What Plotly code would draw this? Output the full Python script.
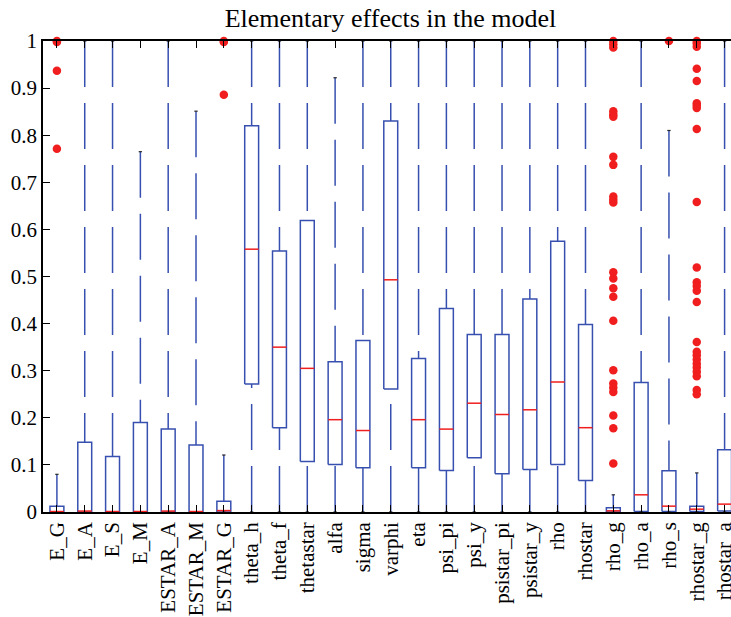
import plotly.graph_objects as go

categories = ["E_G", "E_A", "E_S", "E_M", "ESTAR_A", "ESTAR_M", "ESTAR_G",
              "theta_h", "theta_f", "thetastar", "alfa", "sigma", "varphi", "eta",
              "psi_pi", "psi_y", "psistar_pi", "psistar_y", "rho", "rhostar",
              "rho_g", "rho_a", "rho_s", "rhostar_g", "rhostar_a"]

lower_whisker = [0, 0, 0, 0, 0, 0, 0,
                 0, 0, 0, 0, 0, 0, 0,
                 0, 0, 0, 0, 0, 0,
                 0, 0, 0, 0, 0]
q1 = [0.0, 0.0, 0.0, 0.0, 0.0, 0.0, 0.0,
      0.272, 0.179, 0.107, 0.101, 0.094, 0.261, 0.094,
      0.088, 0.115, 0.081, 0.090, 0.101, 0.067,
      0.0, 0.001, 0.001, 0.001, 0.002]
median = [0.001, 0.002, 0.001, 0.001, 0.002, 0.001, 0.003,
          0.558, 0.350, 0.305, 0.196, 0.173, 0.493, 0.196,
          0.176, 0.231, 0.207, 0.217, 0.276, 0.179,
          0.0025, 0.0365, 0.0124, 0.006, 0.0167]
q3 = [0.012, 0.148, 0.118, 0.190, 0.176, 0.142, 0.023,
      0.820, 0.554, 0.619, 0.319, 0.364, 0.830, 0.326,
      0.432, 0.377, 0.377, 0.452, 0.575, 0.398,
      0.009, 0.275, 0.0876, 0.0124, 0.132]
upper_whisker = [0.080, 1.0, 1.0, 0.765, 1.0, 0.851, 0.121,
                 1.0, 1.0, 1.0, 0.922, 1.0, 1.0, 1.0,
                 1.0, 1.0, 1.0, 1.0, 1.0, 1.0,
                 0.0365, 1.0, 0.810, 0.083, 1.0]

outliers_E_G = [1.0, 0.998, 0.937, 0.771]
outliers_ESTAR_G = [1.0, 0.998, 0.886]
outliers_rho_g = [1.0, 0.993, 0.986, 0.851, 0.844, 0.839, 0.754, 0.737,
                  0.670, 0.663, 0.657, 0.509, 0.496, 0.475, 0.457, 0.406,
                  0.301, 0.273, 0.264, 0.255, 0.205, 0.178, 0.103]
outliers_rho_s = [1.0]
outliers_rhostar_g = [1.0, 0.995, 0.988, 0.941, 0.915, 0.868, 0.863, 0.858,
                      0.813, 0.658, 0.519, 0.488, 0.480, 0.470, 0.446, 0.361,
                      0.340, 0.333, 0.324, 0.315, 0.307, 0.298, 0.288, 0.259, 0.250]
outliers = {"E_G": outliers_E_G, "ESTAR_G": outliers_ESTAR_G, "rho_g": outliers_rho_g,
            "rho_s": outliers_rho_s, "rhostar_g": outliers_rhostar_g}

BOX_HALF = 0.25
CAP_HALF = 0.06
BLUE = "rgb(55,80,175)"
RED = "rgb(240,30,30)"
FONT = "Liberation Serif"

pos = list(range(1, len(categories) + 1))

box_x, box_y = [], []
wh_x, wh_y = [], []
cap_x, cap_y = [], []
med_x, med_y = [], []
out_x, out_y = [], []
for i, c in enumerate(categories):
    p = pos[i]
    box_x += [p - BOX_HALF, p + BOX_HALF, p + BOX_HALF, p - BOX_HALF, p - BOX_HALF, None]
    box_y += [q1[i], q1[i], q3[i], q3[i], q1[i], None]
    # whiskers drawn from their ends toward the box
    wh_x += [p, p, None, p, p, None]
    wh_y += [upper_whisker[i], q3[i], None, lower_whisker[i], q1[i], None]
    cap_x += [p - CAP_HALF, p + CAP_HALF, None, p - CAP_HALF, p + CAP_HALF, None]
    cap_y += [upper_whisker[i], upper_whisker[i], None, lower_whisker[i], lower_whisker[i], None]
    med_x += [p - BOX_HALF, p + BOX_HALF, None]
    med_y += [median[i], median[i], None]
    for v in outliers.get(c, []):
        out_x.append(p)
        out_y.append(v)

fig = go.Figure()
fig.add_trace(go.Scatter(x=wh_x, y=wh_y, mode="lines",
                         line=dict(color=BLUE, width=1.5, dash="46px,16px"),
                         hoverinfo="skip", showlegend=False))
fig.add_trace(go.Scatter(x=box_x, y=box_y, mode="lines",
                         line=dict(color=BLUE, width=1.5),
                         hoverinfo="skip", showlegend=False))
fig.add_trace(go.Scatter(x=cap_x, y=cap_y, mode="lines",
                         line=dict(color="rgb(40,40,40)", width=1.2),
                         hoverinfo="skip", showlegend=False))
fig.add_trace(go.Scatter(x=med_x, y=med_y, mode="lines",
                         line=dict(color=RED, width=1.5),
                         hoverinfo="skip", showlegend=False))
fig.add_trace(go.Scatter(x=out_x, y=out_y, mode="markers",
                         marker=dict(color=RED, size=8.5, line=dict(width=0)),
                         cliponaxis=False, showlegend=False))

W, H = 731, 617
L, T, B = 43, 41, 105
plot_w = W - L
spacing = 27.82
x_max = 0.5 + plot_w / spacing

fig.update_layout(
    width=W, height=H,
    margin=dict(l=L, r=0, t=T, b=B, autoexpand=False),
    paper_bgcolor="white", plot_bgcolor="white",
    font=dict(family=FONT, size=21, color="black"),
    title=dict(text="Elementary effects in the model",
               font=dict(family=FONT, size=26, color="black"),
               x=390.5 / W, xref="container", xanchor="center",
               y=1 - 18 / H, yref="container", yanchor="middle"),
    showlegend=False,
)
fig.update_xaxes(
    range=[0.5, x_max], tickmode="array", tickvals=pos, ticktext=categories,
    tickangle=-90, ticks="inside", ticklen=7, tickcolor="black", tickwidth=1,
    showline=True, linecolor="black", linewidth=1.5, mirror="ticks",
    showgrid=False, zeroline=False, automargin=False, ticklabeloverflow="allow",
    tickfont=dict(family=FONT, size=21, color="black"),
)
fig.update_yaxes(
    range=[0, 1], tickmode="array",
    tickvals=[0, 0.1, 0.2, 0.3, 0.4, 0.5, 0.6, 0.7, 0.8, 0.9, 1],
    ticktext=["0", "0.1", "0.2", "0.3", "0.4", "0.5", "0.6", "0.7", "0.8", "0.9", "1"],
    ticks="inside", ticklen=7, tickcolor="black", tickwidth=1,
    showline=True, linecolor="black", linewidth=1.5,
    showgrid=False, zeroline=False, automargin=False, ticklabeloverflow="allow",
    tickfont=dict(family=FONT, size=21, color="black"),
)

fig.write_html("out.html", config={"displayModeBar": False},
               post_script="document.body.style.margin='0';document.body.style.overflow='hidden';")
